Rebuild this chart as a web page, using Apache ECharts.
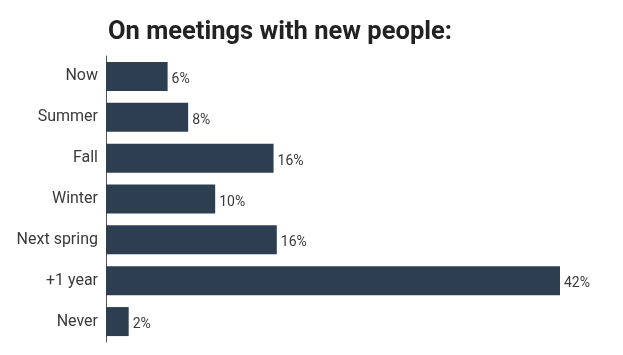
<!DOCTYPE html>
<html><head><meta charset="utf-8">
<script src="https://cdn.jsdelivr.net/npm/echarts@6/dist/echarts.min.js"></script>
<style>html,body{margin:0;padding:0;background:#fff}#c{width:623px;height:355px}</style>
</head><body><div id="c"></div>
<script>
var titleText = "On meetings with new people:";
var categories = ["Now", "Summer", "Fall", "Winter", "Next spring", "+1 year", "Never"];
var values = [5.7, 7.6, 15.5, 10.1, 15.8, 42, 2.1];
var valueLabels = ["6%", "8%", "16%", "10%", "16%", "42%", "2%"];

var chart = echarts.init(document.getElementById('c'));
chart.setOption({
  animation: false,
  title: {
    text: titleText, left: 103, top: 15,
    textStyle: {fontFamily: "Roboto", fontWeight: "bold", fontSize: 25.5, color: "#222"}
  },
  grid: {left: 106, right: 63, top: 56, bottom: 13},
  xAxis: {type: "value", min: 0, max: 42, show: false},
  yAxis: {
    type: "category", data: categories, inverse: true,
    axisLine: {show: true, lineStyle: {color: "#555", width: 1}},
    axisTick: {show: false},
    axisLabel: {margin: 8, fontFamily: "Roboto", fontSize: 16, color: "#3a3a3a"}
  },
  series: [{
    type: "bar", data: values, barWidth: 29,
    itemStyle: {color: "#2d3e50"},
    label: {
      show: true, position: "right", distance: 4, offset: [0, 3],
      fontFamily: "Roboto", fontSize: 14, color: "#3a3a3a",
      formatter: function (p) { return valueLabels[p.dataIndex]; }
    }
  }]
});
</script></body></html>
